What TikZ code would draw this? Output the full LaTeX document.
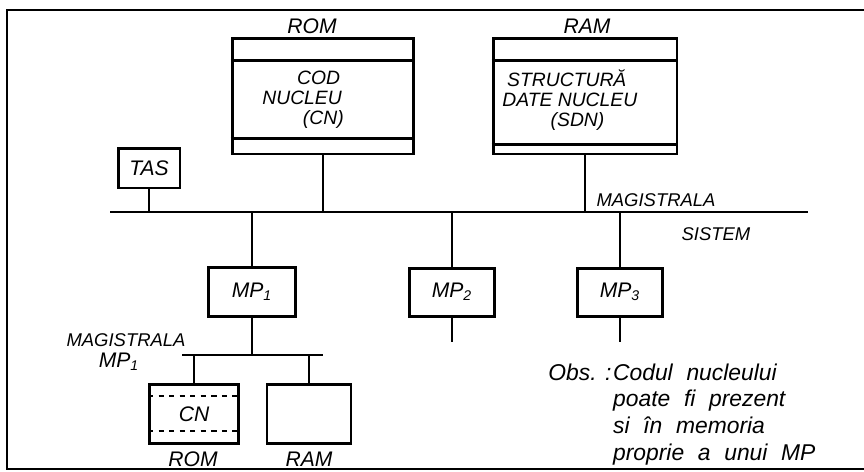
\documentclass[tikz,border=0pt]{standalone}
\usepackage{fontspec}
\setmainfont{Liberation Sans}
\usepackage{tikz}
\usetikzlibrary{calc}

\begin{document}
\begin{tikzpicture}[x=0.02cm,y=-0.02cm,font=\fontsize{12}{14}\selectfont\itshape,
  box/.style={draw,line width=1.7pt,inner sep=0pt},
  wire/.style={line width=0.8pt},
  lbl/.style={font=\fontsize{10.5}{12}\selectfont\itshape},
  txt/.style={anchor=west,align=left,inner sep=0pt,font=\fontsize{11}{11.3}\selectfont\itshape}]
\useasboundingbox (0,0) rectangle (864,471);
% frame
\draw[line width=1.1pt] (864,10) -- (7,10) -- (7,469) -- (864,469);
% system bus
\coordinate (busL) at (110,212);
\coordinate (busR) at (808,212);
\draw[wire] (busL) -- (busR);
\node[lbl] (magS) at (656,200) {MAGISTRALA};
\node[lbl] (sis) at (716,234) {SISTEM};
% shared ROM / RAM
\node[box,minimum width=3.64cm,minimum height=2.32cm] (rom) at (323,96) {};
\node (romL) at (312,26) {ROM};
\draw[line width=1.7pt] ([yshift=-0.48cm]rom.north west) -- ([yshift=-0.48cm]rom.north east);
\draw[line width=1.7pt] ([yshift=0.34cm]rom.south west) -- ([yshift=0.34cm]rom.south east);
\node[txt] (cn) at (262,100) {\hspace*{1.8em}COD\\NUCLEU\\\hspace*{2.1em}(CN)};
\node[box,minimum width=3.68cm,minimum height=2.32cm] (ram) at (585,96) {};
\node (ramL) at (587,26) {RAM};
\draw[line width=1.7pt] ([yshift=-0.48cm]ram.north west) -- ([yshift=-0.48cm]ram.north east);
\draw[line width=1.7pt] ([yshift=0.22cm]ram.south west) -- ([yshift=0.22cm]ram.south east);
\node[txt] (sdn) at (502,100) {\hspace*{0.25em}STRUCTURĂ\\DATE NUCLEU\\\hspace*{2.5em}(SDN)};
\node[box,minimum width=1.24cm,minimum height=0.8cm] (tas) at (149,168) {TAS};
\draw[wire] (tas.south) -- (tas.south |- busL);
\draw[wire] (rom.south) -- (rom.south |- busL);
\draw[wire] (ram.south) -- (ram.south |- busL);
% processors
\node[box,minimum width=1.74cm,minimum height=0.98cm] (mp1) at (252,292) {MP\textsubscript{1}};
\node[box,minimum width=1.70cm,minimum height=0.96cm] (mp2) at (452,292) {MP\textsubscript{2}};
\node[box,minimum width=1.70cm,minimum height=0.96cm] (mp3) at (620,292) {MP\textsubscript{3}};
\foreach \p in {mp1,mp2,mp3}
  \draw[wire] (\p.north |- busL) -- (\p.north);
\draw[wire] (mp2.south) -- ++(0,24);
\draw[wire] (mp3.south) -- ++(0,24);
% local bus of MP1
\coordinate (lbL) at (182,355);
\coordinate (lbR) at (323,355);
\draw[wire] (lbL) -- (lbR);
\draw[wire] (mp1.south) -- (mp1.south |- lbL);
\node[lbl] (magL) at (126,340) {MAGISTRALA};
\node (mpL) at (119,362) {MP\textsubscript{1}};
\node[box,minimum width=1.78cm,minimum height=1.18cm] (lrom) at (194,414) {CN};
\draw[dashed,line width=1pt] ([yshift=-0.26cm]lrom.north west) -- ([yshift=-0.26cm]lrom.north east);
\draw[dashed,line width=1pt] ([yshift=0.28cm]lrom.south west) -- ([yshift=0.28cm]lrom.south east);
\node[box,line width=1.3pt,minimum width=1.68cm,minimum height=1.18cm] (lram) at (309,414) {};
\draw[wire] (lrom.north |- lbL) -- (lrom.north);
\draw[wire] (lram.north |- lbL) -- (lram.north);
\node (lromL) at (193,459) {ROM};
\node (lramL) at (309,459) {RAM};
% note
\node[anchor=north west,inner sep=0pt,font=\fontsize{13}{15.2}\selectfont\itshape] (obs) at (548,361)
  {\spaceskip=0.6em\begin{tabular}{@{}l@{\hspace{1pt}}l@{}}{\spaceskip=0pt Obs. :}&Codul nucleului\\&poate fi prezent\\&si în memoria\\&proprie a unui MP\end{tabular}};
\end{tikzpicture}
\end{document}
